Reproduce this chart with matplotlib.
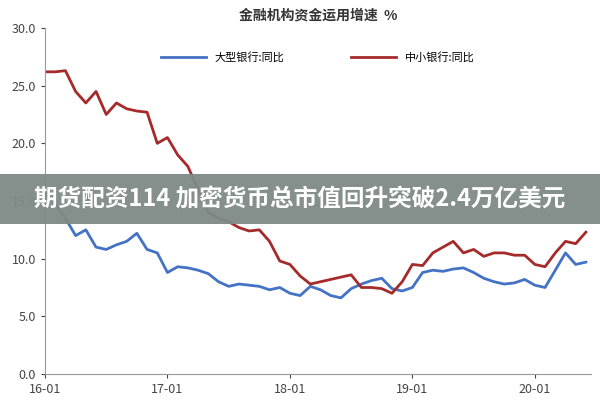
import matplotlib.pyplot as plt
import numpy as np

plt.rcParams['font.family'] = ['Noto Sans CJK SC', 'DejaVu Sans']

# monthly, 2016-01 .. 2020-06
big_banks = [15.6, 14.8, 13.5, 12.0, 12.5, 11.0, 10.8, 11.2, 11.5, 12.2, 10.8, 10.5,
             8.8, 9.3, 9.2, 9.0, 8.7, 8.0, 7.6, 7.8, 7.7, 7.6, 7.3, 7.5,
             7.0, 6.8, 7.6, 7.3, 6.8, 6.6, 7.4, 7.8, 8.1, 8.3, 7.4, 7.2,
             7.5, 8.8, 9.0, 8.9, 9.1, 9.2, 8.8, 8.3, 8.0, 7.8, 7.9, 8.2,
             7.7, 7.5, 9.0, 10.5, 9.5, 9.7]
small_banks = [26.2, 26.2, 26.3, 24.5, 23.5, 24.5, 22.5, 23.5, 23.0, 22.8, 22.7, 20.0,
               20.5, 19.0, 18.0, 16.0, 14.0, 13.5, 13.2, 12.7, 12.4, 12.5, 11.5, 9.8,
               9.5, 8.5, 7.8, 8.0, 8.2, 8.4, 8.6, 7.5, 7.5, 7.4, 7.0, 8.0,
               9.5, 9.4, 10.5, 11.0, 11.5, 10.5, 10.8, 10.2, 10.5, 10.5, 10.3, 10.3,
               9.5, 9.3, 10.5, 11.5, 11.3, 12.3]
tick_labels = ['16-01', '17-01', '18-01', '19-01', '20-01']
series_names = ['大型银行:同比', '中小银行:同比']

x = np.arange(len(big_banks))
fig, ax = plt.subplots(figsize=(6, 4), dpi=100)
fig.subplots_adjust(left=0.075, right=0.985, top=0.93, bottom=0.065)

ax.plot(x, big_banks, color='#4472c4', lw=2, label=series_names[0])
ax.plot(x, small_banks, color='#a52a2a', lw=2, label=series_names[1])

ax.set_xlim(0, len(x) - 0.5)
ax.set_ylim(0, 30)
ax.set_xticks([0, 12, 24, 36, 48])
ax.set_xticklabels(tick_labels)
ax.set_yticks(np.arange(0, 31, 5))
ax.set_yticklabels([f'{v:.1f}' for v in np.arange(0, 31, 5)])
ax.tick_params(labelsize=9, colors='#444444', length=3)
for s in ['top', 'right']:
    ax.spines[s].set_visible(False)
for s in ['left', 'bottom']:
    ax.spines[s].set_color('#999999')

ax.set_title('金融机构资金运用增速  %', fontsize=10, fontweight='bold', color='#333333', pad=6)
ax.legend(loc='upper center', ncol=2, frameon=False, fontsize=8, columnspacing=6,
          handlelength=4, bbox_to_anchor=(0.5, 0.96))

# overlay banner
fig.patches.append(plt.Rectangle((0, 0.44), 1, 0.125, transform=fig.transFigure,
                                 facecolor='#7f8a86', alpha=0.95, zorder=5))
fig.text(0.5, 0.502, '期货配资114 加密货币总市值回升突破2.4万亿美元', ha='center', va='center',
         fontsize=17, fontweight='bold', color='white', zorder=6)

fig.savefig('out.png')
